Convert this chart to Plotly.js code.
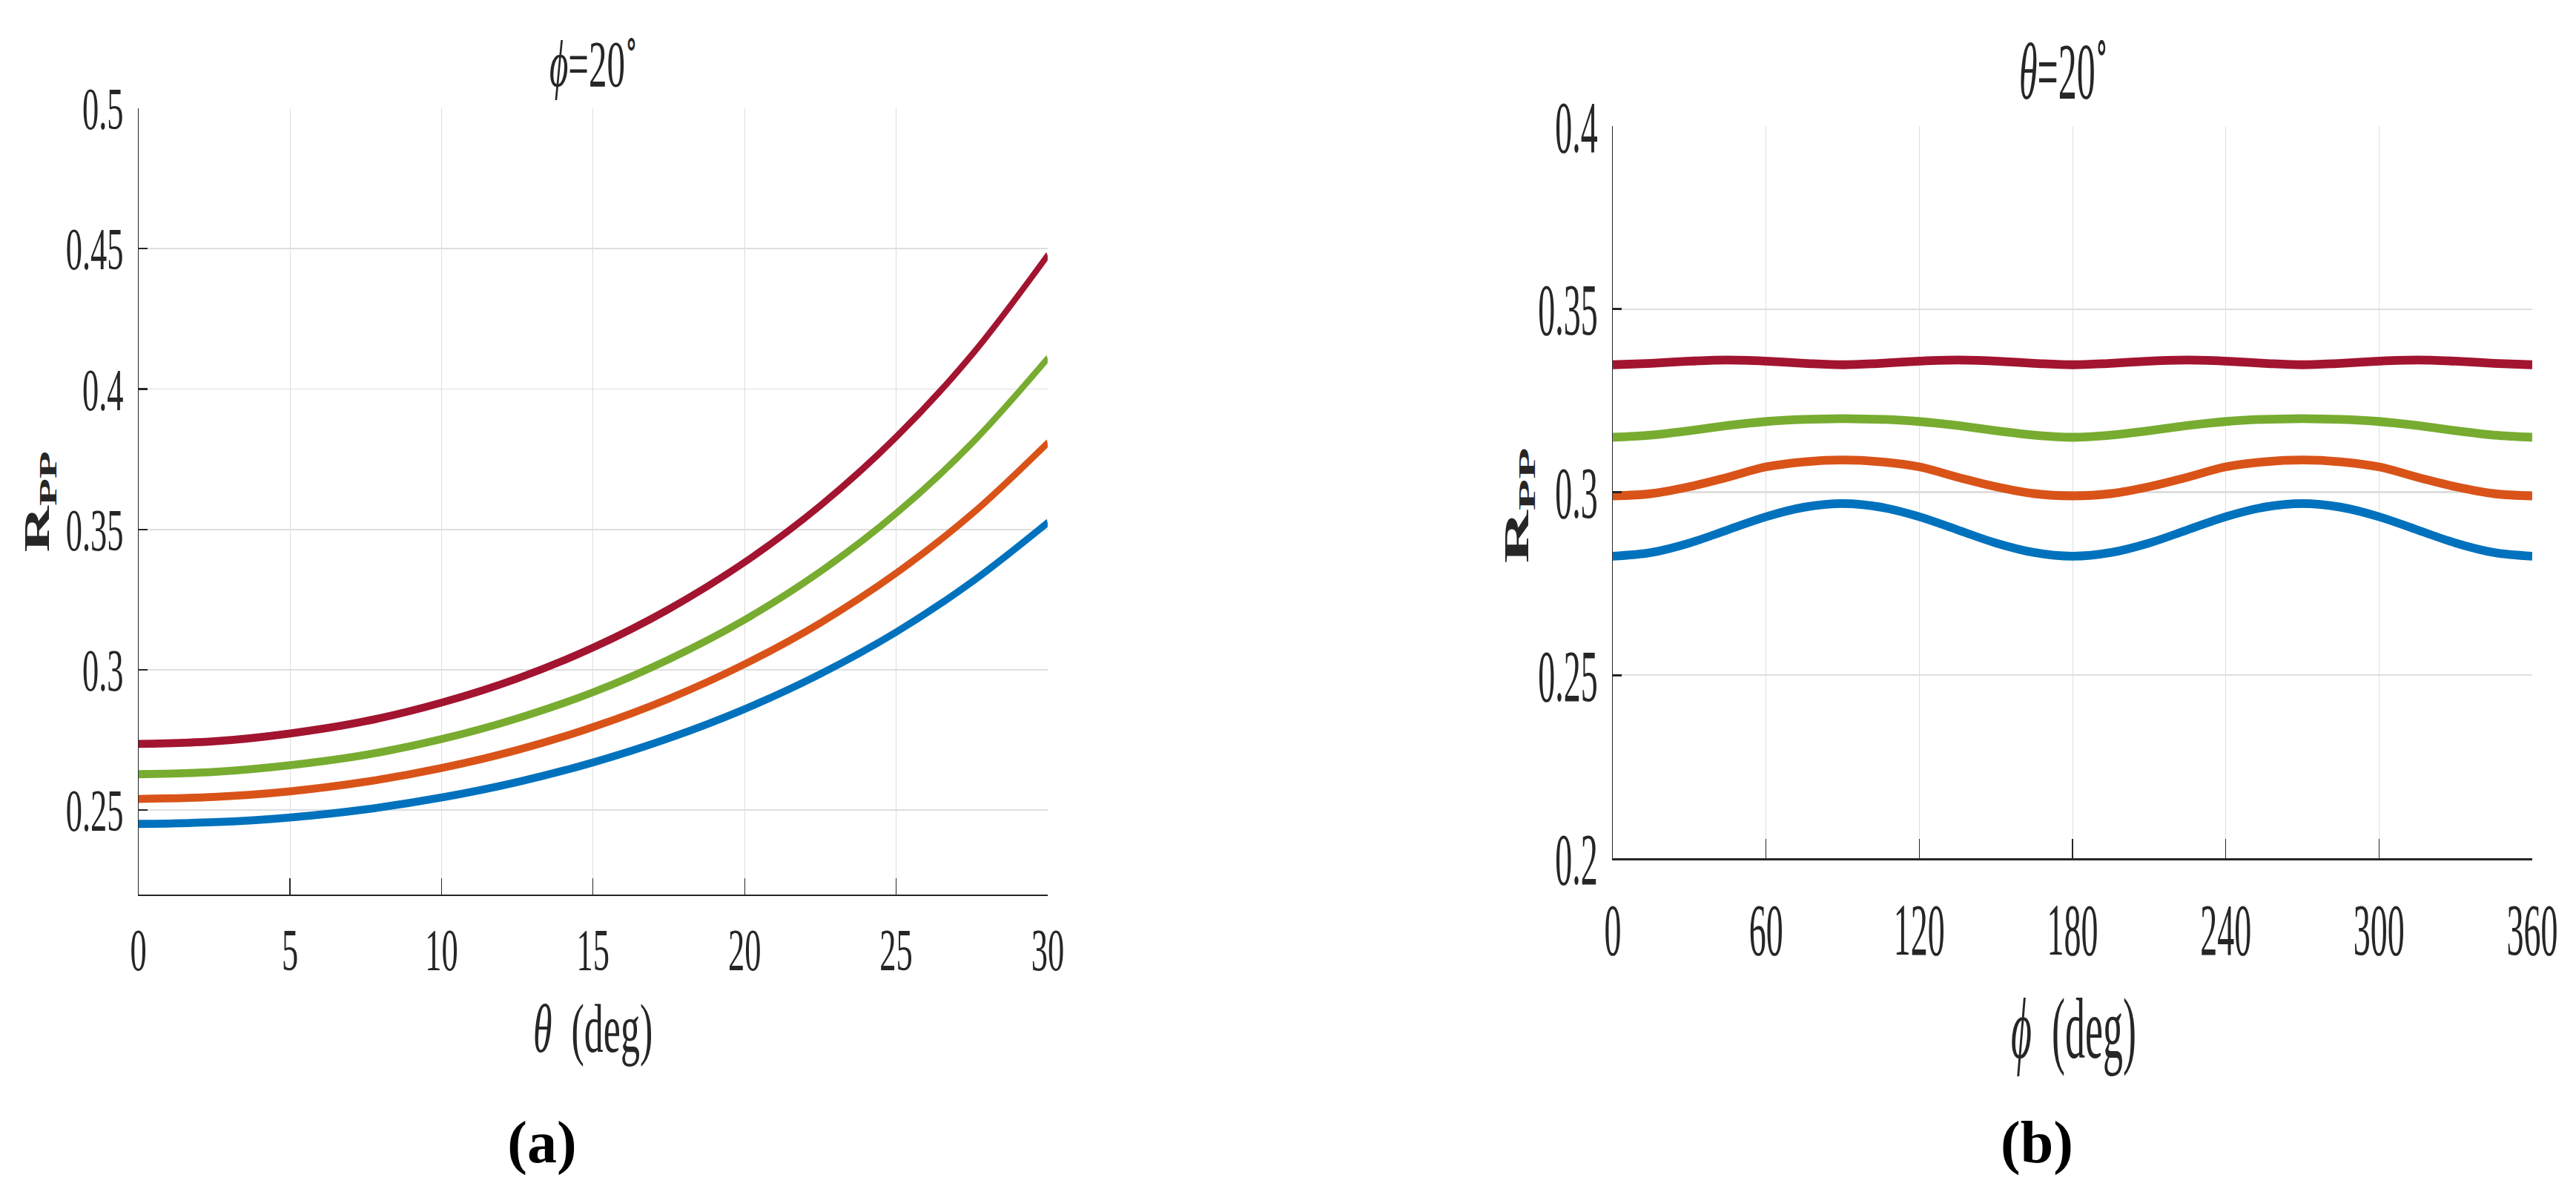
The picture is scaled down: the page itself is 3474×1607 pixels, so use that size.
<!DOCTYPE html>
<html>
<head>
<meta charset="utf-8">
<script src="https://cdn.plot.ly/plotly-3.0.1.min.js"></script>
<style>
  html, body { margin: 0; padding: 0; background: #ffffff; overflow: hidden; }
  #page { position: relative; width: 3474px; height: 1607px; background: #ffffff; }
  .panel { position: absolute; top: 0; width: 1737px; transform-origin: 0 0; }
  .tag { position: absolute; font-family: "Liberation Serif", "DejaVu Serif", serif;
         font-weight: bold; font-size: 80px; color: #000000; transform: translate(-50%, -50%);
         white-space: nowrap; line-height: 1; }
</style>
</head>
<body>
<div id="page">
  <div id="panelA" class="panel"></div>
  <div id="panelB" class="panel"></div>
  <div class="tag" style="left:731px; top:1540px;">(a)</div>
  <div class="tag" style="left:2747px; top:1540px;">(b)</div>
</div>
<script>
// (a) R_PP versus incidence angle theta, at phi = 20 deg
const thetaDeg = [0, 2.5, 5, 7.5, 10, 12.5, 15, 17.5, 20, 22.5, 25, 27.5, 30];
const rppBlueA   = [0.2451, 0.2457, 0.2474, 0.2503, 0.2545, 0.2600, 0.2670, 0.2756, 0.2860, 0.2985, 0.3134, 0.3313, 0.3524];
const rppOrangeA = [0.2540, 0.2547, 0.2567, 0.2601, 0.2650, 0.2714, 0.2796, 0.2897, 0.3020, 0.3167, 0.3344, 0.3555, 0.3808];
const rppGreenA  = [0.2628, 0.2636, 0.2660, 0.2697, 0.2753, 0.2827, 0.2920, 0.3037, 0.3178, 0.3350, 0.3557, 0.3807, 0.4109];
const rppRedA    = [0.2736, 0.2745, 0.2773, 0.2817, 0.2883, 0.2969, 0.3079, 0.3216, 0.3383, 0.3585, 0.3829, 0.4122, 0.4476];

// (b) R_PP versus azimuth phi, at theta = 20 deg
const phiDeg = [0, 15, 30, 45, 60, 75, 90, 105, 120, 135, 150, 165, 180,
                195, 210, 225, 240, 255, 270, 285, 300, 315, 330, 345, 360];
const rppBlueB   = [0.2825, 0.2835, 0.2861, 0.2897, 0.2933, 0.2959, 0.2969, 0.2959, 0.2933, 0.2897, 0.2861, 0.2835, 0.2825,
                    0.2835, 0.2861, 0.2897, 0.2933, 0.2959, 0.2969, 0.2959, 0.2933, 0.2897, 0.2861, 0.2835, 0.2825];
const rppOrangeB = [0.2990, 0.2996, 0.3015, 0.3041, 0.3069, 0.3083, 0.3088, 0.3083, 0.3069, 0.3041, 0.3015, 0.2996, 0.2990,
                    0.2996, 0.3015, 0.3041, 0.3069, 0.3083, 0.3088, 0.3083, 0.3069, 0.3041, 0.3015, 0.2996, 0.2990];
const rppGreenB  = [0.3150, 0.3156, 0.3168, 0.3182, 0.3193, 0.3199, 0.3201, 0.3199, 0.3193, 0.3182, 0.3168, 0.3156, 0.3150,
                    0.3156, 0.3168, 0.3182, 0.3193, 0.3199, 0.3201, 0.3199, 0.3193, 0.3182, 0.3168, 0.3156, 0.3150];
const rppRedB    = [0.3348, 0.3352, 0.3358, 0.3361, 0.3358, 0.3352, 0.3348, 0.3352, 0.3358, 0.3361, 0.3358, 0.3352, 0.3348,
                    0.3352, 0.3358, 0.3361, 0.3358, 0.3352, 0.3348, 0.3352, 0.3358, 0.3361, 0.3358, 0.3352, 0.3348];

const thetaTicks = [0, 5, 10, 15, 20, 25, 30];
const phiTicks = [0, 60, 120, 180, 240, 300, 360];
const rppTicksA = [0.25, 0.3, 0.35, 0.4, 0.45, 0.5];
const rppTicksB = [0.2, 0.25, 0.3, 0.35, 0.4];

const seriesColors = ['#0072BD', '#D95319', '#77AC30', '#A2142F'];
const serif = '"Liberation Serif", "Times New Roman", "DejaVu Serif", serif';
const ink = '#262626';

function curves(x, ys, width) {
  return ys.map((y, i) => ({
    x: x, y: y, type: 'scatter', mode: 'lines',
    line: { color: seriesColors[i], width: width, shape: 'spline', smoothing: 1 },
    hoverinfo: 'skip'
  }));
}

function axisBase(tickSize) {
  return {
    showline: true, linecolor: ink, linewidth: 1.2, mirror: false,
    ticks: 'inside', ticklen: 12, tickwidth: 1.2, tickcolor: ink,
    showgrid: true, gridcolor: '#dedede', gridwidth: 1,
    zeroline: false, fixedrange: true,
    tickfont: { family: serif, size: tickSize, color: ink }
  };
}

function buildPanel(el, cfg) {
  const scale = 1607 / cfg.height;
  el.style.left = cfg.left + 'px';
  el.style.height = cfg.height + 'px';
  el.style.transform = 'scaleY(' + scale + ')';

  const layout = {
    width: 1737, height: cfg.height,
    margin: { l: 0, r: 0, t: 0, b: 0 },
    paper_bgcolor: 'rgba(0,0,0,0)', plot_bgcolor: '#ffffff',
    showlegend: false,
    xaxis: Object.assign(axisBase(cfg.tickSize), {
      domain: cfg.xdomain, range: cfg.xrange, tickmode: 'array', tickvals: cfg.xticks,
      ticklabelstandoff: cfg.xStandoff
    }),
    yaxis: Object.assign(axisBase(cfg.tickSize), {
      domain: cfg.ydomain, range: cfg.yrange, tickmode: 'array', tickvals: cfg.yticks,
      ticklabelstandoff: cfg.yStandoff
    }),
    annotations: [
      { text: cfg.title, xref: 'paper', yref: 'paper', x: cfg.titleX, y: cfg.titleY,
        xanchor: 'center', yanchor: 'middle', showarrow: false,
        font: { family: serif, size: cfg.titleSize, color: ink } },
      { text: cfg.xTitle, xref: 'paper', yref: 'paper', x: cfg.xTitleX, y: cfg.xTitleY,
        xanchor: 'center', yanchor: 'middle', showarrow: false,
        font: { family: serif, size: cfg.axisTitleSize, color: ink } },
      { text: '<b>R<sub>PP</sub></b>', xref: 'paper', yref: 'paper', x: cfg.yTitleX, y: cfg.yTitleY,
        xanchor: 'center', yanchor: 'middle', showarrow: false, textangle: -90,
        font: { family: serif, size: cfg.yTitleSize, color: ink } }
    ]
  };
  Plotly.newPlot(el, curves(cfg.x, cfg.ys, cfg.lineWidth), layout,
                 { displayModeBar: false, staticPlot: true });
}

buildPanel(document.getElementById('panelA'), {
  left: 0, height: 893,
  x: thetaDeg, ys: [rppBlueA, rppOrangeA, rppGreenA, rppRedA], lineWidth: 6,
  xdomain: [0.1075, 0.8134], ydomain: [0.2497, 0.9091],
  xrange: [0, 30], yrange: [0.22, 0.5], xticks: thetaTicks, yticks: rppTicksA,
  tickSize: 44.5, xStandoff: 2, yStandoff: 10,
  title: '<i>ϕ</i>=20<sup>∘</sup>', titleSize: 49, titleX: 0.4606, titleY: 0.9502,
  xTitle: '<i>θ</i>  (deg)', axisTitleSize: 52, xTitleX: 0.4600, xTitleY: 0.1369,
  yTitleSize: 48, yTitleX: 0.0300, yTitleY: 0.5794
});

buildPanel(document.getElementById('panelB'), {
  left: 1737, height: 747,
  x: phiDeg, ys: [rppBlueB, rppOrangeB, rppGreenB, rppRedB], lineWidth: 5.5,
  xdomain: [0.2522, 0.9660], ydomain: [0.2800, 0.8942],
  xrange: [0, 360], yrange: [0.2, 0.4], xticks: phiTicks, yticks: rppTicksB,
  tickSize: 46, xStandoff: 4, yStandoff: 10,
  title: '<i>θ</i>=20<sup>∘</sup>', titleSize: 50, titleX: 0.6022, titleY: 0.9440,
  xTitle: '<i>ϕ</i>  (deg)', axisTitleSize: 54, xTitleX: 0.6100, xTitleY: 0.1363,
  yTitleSize: 46, yTitleX: 0.1796, yTitleY: 0.5768
});
</script>
</body>
</html>
